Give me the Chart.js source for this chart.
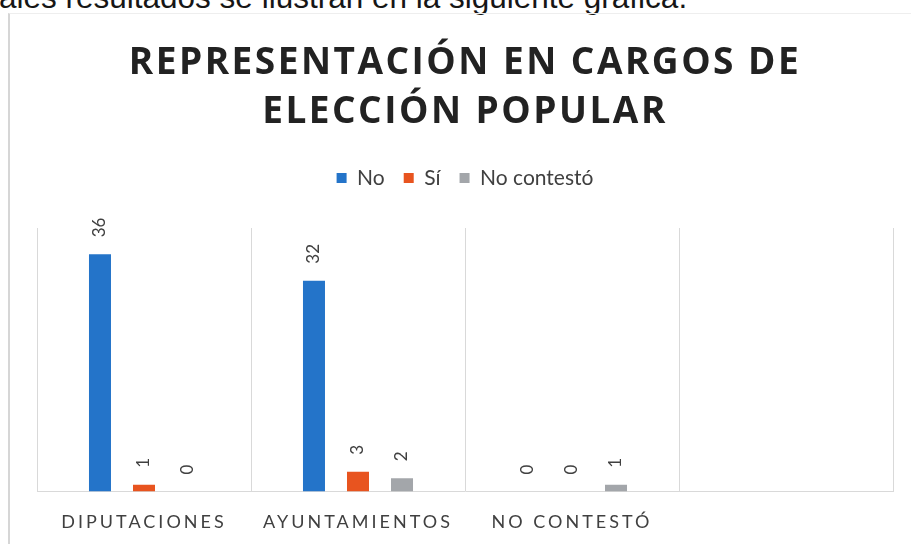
<!DOCTYPE html>
<html lang="es">
<head>
<meta charset="utf-8">
<title>Representación en cargos de elección popular</title>
<script src="https://cdn.jsdelivr.net/npm/chart.js@4.4.1/dist/chart.umd.min.js"></script>
<style>
  html, body { margin: 0; padding: 0; background: #fff; overflow: hidden; }
  body { width: 911px; height: 544px; position: relative; }
  .texto { position: absolute; left: -1px; top: -18px; font: 31.5px "Liberation Sans", Arial, sans-serif; line-height: 31.5px; color: #161616; white-space: nowrap; }
  .marco { position: absolute; left: 8px; top: 13px; right: -2px; bottom: -2px; border-left: 2px solid #d6d6d6; border-top: 1px solid #eeeeee; }
  #cargosChart { position: absolute; left: 9px; top: 14px; display: block; }
</style>
</head>
<body>
<div class="texto">ales resultados se ilustran en la siguiente gráfica.</div>
<div class="marco"></div>
<canvas id="cargosChart" width="902" height="539"></canvas>
<script>
// Datos
const categorias = ['DIPUTACIONES', 'AYUNTAMIENTOS', 'NO CONTESTÓ', ''];
const valoresNo = [36, 32, 0, null];
const valoresSi = [1, 3, 0, null];
const valoresNoContesto = [0, 2, 1, null];

const colorTexto = '#404040';
const fuente = 'Lato, "Open Sans", sans-serif';

// envuelve métodos para dibujar/medir con espaciado entre letras
function conEspaciado(obj, metodos, valor) {
    metodos.forEach(m => {
        const orig = obj[m];
        obj[m] = function (...args) {
            const c = this.ctx;
            const antes = c.letterSpacing;
            c.letterSpacing = valor;
            try { return orig.apply(this, args); } finally { c.letterSpacing = antes; }
        };
    });
}

const espaciado = {
    id: 'espaciado',
    afterInit(chart) {
        conEspaciado(chart.titleBlock, ['fit', 'draw'], '2.5px');
    },
    beforeLayout(chart) {
        const x = chart.scales.x;
        if (x && !x._espaciado) {
            conEspaciado(x, ['update', 'drawLabels'], '3px');
            x._espaciado = true;
        }
    }
};

// Etiquetas de valor giradas sobre cada barra
const etiquetasValor = {
    id: 'etiquetasValor',
    afterDatasetsDraw(chart) {
        const ctx = chart.ctx;
        ctx.save();
        ctx.font = '17px ' + fuente;
        ctx.fillStyle = colorTexto;
        ctx.textAlign = 'left';
        ctx.textBaseline = 'middle';
        chart.data.datasets.forEach((ds, i) => {
            const meta = chart.getDatasetMeta(i);
            meta.data.forEach((bar, j) => {
                const v = ds.data[j];
                if (v === null || v === undefined) return;
                ctx.save();
                ctx.translate(bar.x, bar.y - 17);
                ctx.rotate(-Math.PI / 2);
                ctx.fillText(String(v), 0, 0);
                ctx.restore();
            });
        });
        ctx.restore();
    }
};

const ctx = document.getElementById('cargosChart').getContext('2d');
new Chart(ctx, {
    type: 'bar',
    data: {
        labels: categorias,
        datasets: [
            { label: 'No', data: valoresNo, backgroundColor: '#2474c9', borderWidth: 0 },
            { label: 'Sí', data: valoresSi, backgroundColor: '#e8541f', borderWidth: 0 },
            { label: 'No contestó', data: valoresNoContesto, backgroundColor: '#a3a6aa', borderWidth: 0 }
        ]
    },
    options: {
        responsive: false,
        animation: false,
        categoryPercentage: 0.617,
        barPercentage: 0.5,
        layout: { padding: { left: 28, right: 18, top: 0, bottom: 0 } },
        plugins: {
            title: {
                display: true,
                text: ['REPRESENTACIÓN EN CARGOS DE', 'ELECCIÓN POPULAR'],
                color: '#222222',
                font: { family: '"Open Sans", Lato, sans-serif', size: 37, weight: 'bold', lineHeight: 1.35 },
                padding: { top: 24, bottom: 10.6 }
            },
            legend: {
                display: true,
                position: 'top',
                weight: 1800, // encima del espaciador
                labels: {
                    boxWidth: 10,
                    boxHeight: 10,
                    padding: 19,
                    color: colorTexto,
                    font: { family: fuente, size: 21 }
                }
            },
            subtitle: {
                // espaciador entre la leyenda y el área de trazado
                display: true,
                text: '',
                font: { size: 1, lineHeight: 1 },
                padding: { top: 28.5, bottom: 0 }
            },
            tooltip: { enabled: false }
        },
        scales: {
            x: {
                grid: { display: true, color: '#d9d9d9', drawTicks: false, offset: true },
                border: { display: true, color: '#d9d9d9' },
                ticks: {
                    color: colorTexto,
                    padding: 20,
                    maxRotation: 0,
                    minRotation: 0,
                    font: { family: fuente, size: 18, lineHeight: 1.2 }
                }
            },
            y: {
                display: false,
                min: 0,
                max: 40
            }
        }
    },
    plugins: [espaciado, etiquetasValor]
});
</script>
</body>
</html>
